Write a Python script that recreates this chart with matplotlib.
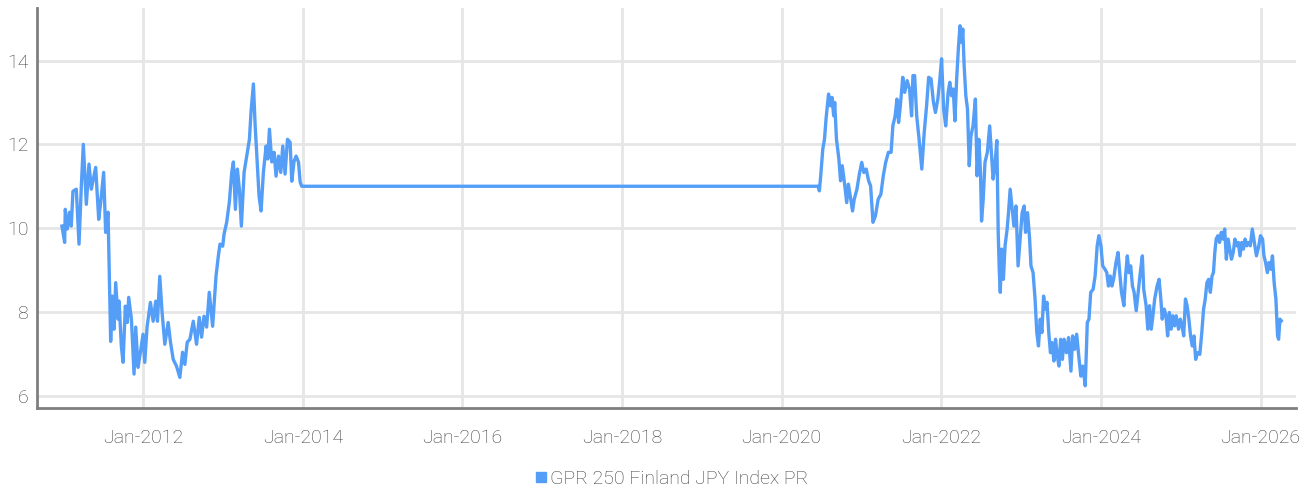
import numpy as np
import pandas as pd
import matplotlib
matplotlib.use("Agg")
import matplotlib.pyplot as plt
import matplotlib.dates as mdates
from matplotlib.lines import Line2D

plt.rcParams['font.family'] = ['Roboto', 'DejaVu Sans']
plt.rcParams['font.weight'] = 'light'

# dates as decimal years
years = [
    2010.983, 2011.017, 2011.025, 2011.050, 2011.079, 2011.100, 2011.121, 2011.163, 2011.197, 2011.226,
    2011.251, 2011.289, 2011.322, 2011.351, 2011.406, 2011.444, 2011.469, 2011.506, 2011.531, 2011.561,
    2011.594, 2011.615, 2011.636, 2011.657, 2011.686, 2011.699, 2011.728, 2011.749, 2011.778, 2011.803,
    2011.820, 2011.854, 2011.887, 2011.908, 2011.937, 2011.967, 2012.000, 2012.021, 2012.050, 2012.092,
    2012.126, 2012.159, 2012.180, 2012.209, 2012.238, 2012.272, 2012.314, 2012.343, 2012.377, 2012.418,
    2012.460, 2012.494, 2012.523, 2012.552, 2012.586, 2012.628, 2012.669, 2012.703, 2012.732, 2012.762,
    2012.795, 2012.828, 2012.870, 2012.912, 2012.941, 2012.962, 2012.996, 2013.013, 2013.046, 2013.079,
    2013.109, 2013.130, 2013.155, 2013.180, 2013.205, 2013.230, 2013.264, 2013.297, 2013.331, 2013.351,
    2013.381, 2013.402, 2013.431, 2013.452, 2013.477, 2013.506, 2013.540, 2013.561, 2013.582, 2013.611,
    2013.640, 2013.665, 2013.695, 2013.724, 2013.749, 2013.778, 2013.808, 2013.841, 2013.862, 2013.891,
    2013.916, 2013.946, 2013.967, 2013.987,
    2020.460, 2020.473, 2020.490, 2020.516, 2020.537, 2020.558, 2020.588, 2020.610, 2020.631, 2020.652,
    2020.665, 2020.687, 2020.717, 2020.738, 2020.759, 2020.789, 2020.815, 2020.836, 2020.866, 2020.888,
    2020.909, 2020.943, 2020.973, 2021.003, 2021.029, 2021.059, 2021.089, 2021.114, 2021.144, 2021.174,
    2021.209, 2021.243, 2021.273, 2021.303, 2021.337, 2021.371, 2021.393, 2021.422, 2021.444, 2021.465,
    2021.487, 2021.517, 2021.542, 2021.572, 2021.602, 2021.628, 2021.645, 2021.666, 2021.692, 2021.722,
    2021.756, 2021.786, 2021.816, 2021.842, 2021.872, 2021.902, 2021.927, 2021.957, 2021.979, 2022.004,
    2022.030, 2022.056, 2022.086, 2022.107, 2022.128, 2022.150, 2022.171, 2022.193, 2022.214, 2022.235,
    2022.257, 2022.270, 2022.287, 2022.308, 2022.329, 2022.351, 2022.372, 2022.398, 2022.428, 2022.449,
    2022.471, 2022.492, 2022.505, 2022.526, 2022.548, 2022.578, 2022.607, 2022.629, 2022.650, 2022.672,
    2022.697, 2022.714, 2022.727, 2022.740, 2022.757, 2022.779, 2022.800, 2022.826, 2022.843, 2022.864,
    2022.886, 2022.911, 2022.937, 2022.963, 2022.988, 2023.014, 2023.040, 2023.057, 2023.082, 2023.108,
    2023.125, 2023.151, 2023.176, 2023.198, 2023.219, 2023.241, 2023.262, 2023.283, 2023.305, 2023.326,
    2023.348, 2023.369, 2023.390, 2023.412, 2023.433, 2023.455, 2023.476, 2023.497, 2023.519, 2023.540,
    2023.570, 2023.596, 2023.626, 2023.647, 2023.673, 2023.698, 2023.724, 2023.750, 2023.775, 2023.805,
    2023.831, 2023.852, 2023.874, 2023.904, 2023.929, 2023.955, 2023.976, 2024.002, 2024.024, 2024.053,
    2024.075, 2024.096, 2024.118, 2024.139, 2024.160, 2024.190, 2024.216, 2024.237, 2024.259, 2024.289,
    2024.310, 2024.332, 2024.353, 2024.374, 2024.396, 2024.417, 2024.443, 2024.468, 2024.494, 2024.520,
    2024.537, 2024.567, 2024.588, 2024.610, 2024.631, 2024.652, 2024.674, 2024.704, 2024.729, 2024.751,
    2024.768, 2024.794, 2024.815, 2024.836, 2024.858, 2024.879, 2024.901, 2024.922, 2024.943, 2024.973,
    2024.995, 2025.016, 2025.037, 2025.059, 2025.080, 2025.102, 2025.123, 2025.144, 2025.166, 2025.187,
    2025.209, 2025.239, 2025.264, 2025.286, 2025.307, 2025.328, 2025.350, 2025.371, 2025.392, 2025.410,
    2025.427, 2025.444, 2025.465, 2025.487, 2025.508, 2025.529, 2025.551, 2025.572, 2025.594, 2025.615,
    2025.636, 2025.658, 2025.679, 2025.701, 2025.722, 2025.743, 2025.765, 2025.786, 2025.807, 2025.829,
    2025.850, 2025.872, 2025.897, 2025.923, 2025.949, 2025.979, 2026.000, 2026.026, 2026.043, 2026.064,
    2026.086, 2026.107, 2026.128, 2026.150, 2026.171, 2026.193, 2026.214, 2026.227, 2026.244, 2026.261,
]
values = [
    10.05, 9.66, 10.45, 9.98, 10.38, 10.05, 10.88, 10.93, 9.62, 11.0,
    12.0, 10.57, 11.53, 10.93, 11.45, 10.21, 10.62, 11.33, 9.9, 10.38,
    7.3, 8.38, 7.59, 8.7, 7.83, 8.26, 7.18, 6.8, 8.14, 7.75,
    8.35, 7.83, 6.52, 7.64, 6.68, 7.04, 7.47, 6.8, 7.64, 8.23,
    7.78, 8.26, 7.78, 8.85, 7.99, 7.23, 7.75, 7.28, 6.87, 6.71,
    6.44, 7.04, 6.75, 7.28, 7.35, 7.78, 7.23, 7.87, 7.4, 7.9,
    7.64, 8.47, 7.66, 8.85, 9.33, 9.62, 9.57, 9.86, 10.14, 10.62,
    11.33, 11.58, 10.45, 11.41, 10.93, 10.05, 11.33, 11.72, 12.12, 12.77,
    13.44, 12.48, 11.48, 10.76, 10.41, 11.33, 11.96, 11.65, 12.36, 11.58,
    11.81, 11.24, 11.72, 11.33, 11.96, 11.29, 12.12, 12.05, 11.12, 11.6,
    11.72, 11.58, 11.1, 11.0,
    11.0, 10.89, 11.25, 11.89, 12.12, 12.64, 13.2, 12.92, 13.12, 12.68,
    13.0, 12.12, 11.65, 11.13, 11.49, 11.05, 10.61, 11.05, 10.69, 10.41,
    10.69, 10.93, 11.29, 11.57, 11.33, 11.41, 11.13, 11.01, 10.14, 10.29,
    10.69, 10.81, 11.25, 11.57, 11.81, 11.81, 12.44, 12.68, 13.08, 12.52,
    12.92, 13.6, 13.24, 13.52, 13.32, 12.68, 13.64, 13.64, 12.68, 12.12,
    11.41, 12.28, 12.92, 13.6, 13.56, 13.0, 12.76, 13.08, 13.48, 14.04,
    12.84, 12.44, 13.24, 13.48, 13.16, 13.32, 12.56, 13.56, 14.27, 14.83,
    14.43, 14.75, 13.87, 13.16, 12.84, 11.49, 12.2, 12.44, 13.08, 11.25,
    12.12, 11.33, 10.17, 10.69, 11.57, 11.81, 12.44, 11.81, 11.17, 11.49,
    12.09, 9.9, 9.02, 8.47, 9.5, 8.78, 9.58, 9.98, 10.37, 10.93,
    10.53, 10.05, 10.53, 9.1, 9.74, 10.37, 10.53, 9.9, 10.37, 9.74,
    9.1, 8.94, 8.31, 7.51, 7.19, 7.83, 7.51, 8.38, 8.07, 8.23,
    7.51, 7.03, 7.27, 6.83, 7.35, 6.95, 6.71, 7.35, 6.87, 7.35,
    7.03, 7.39, 6.59, 7.43, 7.11, 7.47, 6.95, 6.47, 6.71, 6.24,
    7.75, 7.83, 8.47, 8.54, 8.86, 9.58, 9.82, 9.58, 9.1, 9.02,
    8.94, 8.62, 8.86, 8.62, 8.78, 9.18, 9.42, 8.94, 8.47, 8.15,
    8.86, 9.34, 8.94, 9.1, 8.62, 8.47, 8.03, 8.47, 8.94, 9.34,
    8.54, 8.15, 7.59, 8.15, 7.59, 7.91, 8.31, 8.62, 8.78, 8.31,
    7.83, 8.07, 7.91, 7.43, 7.99, 7.59, 7.91, 7.67, 7.91, 7.59,
    7.83, 7.67, 7.43, 8.31, 8.15, 7.83, 7.43, 7.19, 7.43, 6.87,
    7.03, 6.99, 7.51, 8.07, 8.31, 8.7, 8.78, 8.47, 8.86, 8.94,
    9.42, 9.74, 9.82, 9.66, 9.9, 9.74, 9.98, 9.26, 9.74, 9.5,
    9.26, 9.42, 9.74, 9.58, 9.66, 9.34, 9.66, 9.5, 9.74, 9.58,
    9.66, 9.58, 9.98, 9.66, 9.34, 9.58, 9.82, 9.74, 9.34, 9.18,
    8.94, 9.18, 9.02, 9.34, 8.7, 8.31, 7.43, 7.35, 7.83, 7.79,
]
series_name = "GPR 250 Finland JPY Index PR"
y_ticks = [6, 8, 10, 12, 14]
x_tick_years = [2012, 2014, 2016, 2018, 2020, 2022, 2024, 2026]


def to_date(y):
    start = pd.Timestamp(int(y), 1, 1)
    end = pd.Timestamp(int(y) + 1, 1, 1)
    return start + (end - start) * (y - int(y))


dates = [to_date(y) for y in years]

line_col = '#559ef8'
grid_col = '#e6e6e6'
txt_col = '#3c3c3c'

fig = plt.figure(figsize=(13.16, 4.93), dpi=100)
ax = fig.add_axes([0.0281, 0.1724, 0.957, 0.812])

ax.plot(dates, values, color=line_col, lw=2.4, solid_joinstyle='round')

ax.set_xlim(to_date(2010.67), to_date(2026.45))
ax.set_ylim(5.71, 15.26)
ax.set_yticks(y_ticks)
ax.set_xticks([pd.Timestamp(y, 1, 1) for y in x_tick_years])
ax.xaxis.set_major_formatter(mdates.DateFormatter('%b-%Y'))

ax.grid(True, color=grid_col, lw=2)
ax.set_axisbelow(True)
for s in ['top', 'right']:
    ax.spines[s].set_visible(False)
for s in ['left', 'bottom']:
    ax.spines[s].set_color('#7f7f7f')
    ax.spines[s].set_linewidth(2)
ax.tick_params(axis='both', length=0, labelsize=14, colors=txt_col)
ax.tick_params(axis='x', pad=15)
ax.tick_params(axis='y', pad=6)

h = Line2D([], [], marker='s', ls='', color=line_col, markersize=7)
fig.legend([h], [series_name], loc='center', bbox_to_anchor=(0.509, 0.028),
           frameon=False, fontsize=14, labelcolor=txt_col, handletextpad=0.0,
           handlelength=1.0)

fig.savefig('out.png', dpi=100)
